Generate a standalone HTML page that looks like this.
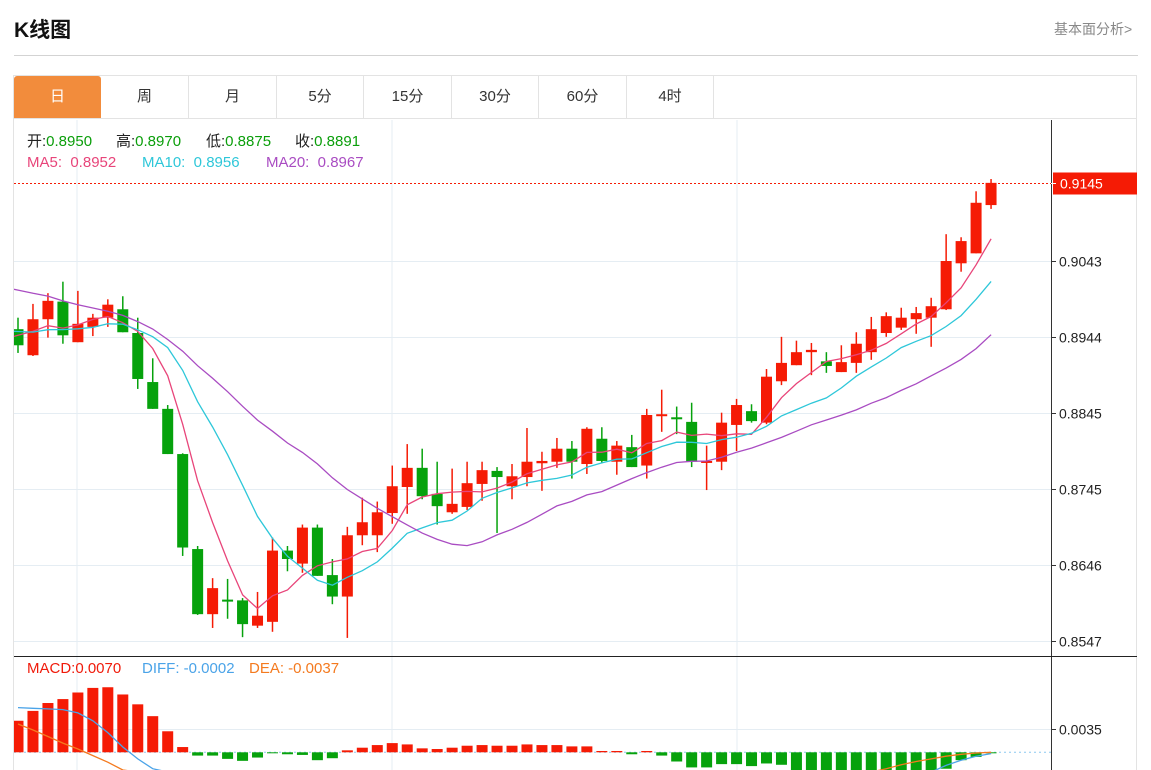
<!DOCTYPE html>
<html><head><meta charset="utf-8"><style>
body{margin:0;width:1151px;height:770px;overflow:hidden;background:#fff;font-family:"Liberation Sans","Noto Sans CJK SC",sans-serif;position:relative}
.abs{position:absolute}
.tab{position:absolute;top:76px;height:42px;line-height:42px;text-align:center;font-size:15px;color:#333;border-right:1px solid #e3e3e3}
.it{position:absolute;white-space:pre;font-size:15px}
</style></head><body>
<div class="abs" style="left:14px;top:14px;font-size:21px;font-weight:bold;color:#111">K线图</div>
<div class="abs" style="left:1054px;top:19px;font-size:14px;color:#888">基本面分析&gt;</div>
<div class="abs" style="left:14px;top:55px;width:1124px;height:1px;background:#d3d3d3"></div>
<div class="abs" style="left:13px;top:75px;width:1124px;height:695px;border:1px solid #e3e3e3;border-bottom:none;box-sizing:border-box"></div>
<div class="abs" style="left:14px;top:118px;width:1123px;height:1px;background:#e3e3e3"></div>
<div class="tab" style="left:14px;width:87px;background:#f28c3c;color:#fff;border-radius:3px 3px 0 0;border-right:none">日</div>
<div class="tab" style="left:101px;width:87px">周</div>
<div class="tab" style="left:189px;width:87px">月</div>
<div class="tab" style="left:277px;width:86px">5分</div>
<div class="tab" style="left:364px;width:87px">15分</div>
<div class="tab" style="left:452px;width:86px">30分</div>
<div class="tab" style="left:539px;width:87px">60分</div>
<div class="tab" style="left:627px;width:86px">4时</div>
<svg class="abs" style="left:0;top:0;overflow:hidden" width="1151" height="770" id="svg"></svg>
<div>
<div class="it" style="left:27px;top:130px;color:#222">开:<span style="color:#0a9e0a">0.8950</span></div>
<div class="it" style="left:116px;top:130px;color:#222">高:<span style="color:#0a9e0a">0.8970</span></div>
<div class="it" style="left:206px;top:130px;color:#222">低:<span style="color:#0a9e0a">0.8875</span></div>
<div class="it" style="left:295px;top:130px;color:#222">收:<span style="color:#0a9e0a">0.8891</span></div>
</div>
<div>
<div class="it" style="left:27px;top:154px;color:#e8457a">MA5:  0.8952</div>
<div class="it" style="left:142px;top:154px;color:#2ec7d9">MA10:  0.8956</div>
<div class="it" style="left:266px;top:154px;color:#a94cc2">MA20:  0.8967</div>
</div>
<div>
<div class="it" style="left:27px;top:660px;color:#f01a0a">MACD:0.0070</div>
<div class="it" style="left:142px;top:660px;color:#4aa3e8">DIFF: -0.0002</div>
<div class="it" style="left:249px;top:660px;color:#f47a1f">DEA: -0.0037</div>
</div>
<script>
const opens=[0.8954,0.8920,0.8967,0.8990,0.8937,0.8957,0.8969,0.8980,0.8949,0.8885,0.8850,0.8791,0.8667,0.8582,0.8601,0.8600,0.8567,0.8572,0.8665,0.8648,0.8695,0.8633,0.8605,0.8685,0.8685,0.8714,0.8748,0.8773,0.8739,0.8715,0.8722,0.8752,0.8769,0.8749,0.8761,0.8779,0.8781,0.8798,0.8778,0.8811,0.8781,0.8800,0.8776,0.8842,0.8839,0.8833,0.8781,0.8781,0.8829,0.8847,0.8832,0.8886,0.8907,0.8924,0.8912,0.8898,0.8910,0.8924,0.8949,0.8956,0.8967,0.8969,0.8980,0.9040,0.9053,0.9116];
const highs=[0.8969,0.8987,0.9001,0.9016,0.9004,0.8974,0.8993,0.8997,0.8969,0.8916,0.8855,0.8792,0.8671,0.8629,0.8628,0.8603,0.8611,0.8682,0.8671,0.8699,0.8699,0.8654,0.8696,0.8734,0.8729,0.8776,0.8804,0.8798,0.8781,0.8772,0.8781,0.8781,0.8774,0.8778,0.8825,0.8794,0.8812,0.8808,0.8826,0.8826,0.8808,0.8816,0.8850,0.8875,0.8853,0.8858,0.8802,0.8845,0.8863,0.8856,0.8902,0.8944,0.8939,0.8936,0.8924,0.8933,0.8950,0.8970,0.8976,0.8982,0.8983,0.8995,0.9078,0.9074,0.9134,0.9150];
const lows=[0.8923,0.8919,0.8943,0.8935,0.8937,0.8945,0.8957,0.8950,0.8876,0.8850,0.8791,0.8658,0.8581,0.8564,0.8576,0.8552,0.8564,0.8559,0.8638,0.8636,0.8632,0.8595,0.8551,0.8672,0.8663,0.8700,0.8713,0.8732,0.8699,0.8713,0.8718,0.8730,0.8688,0.8732,0.8749,0.8743,0.8773,0.8759,0.8765,0.8779,0.8764,0.8774,0.8759,0.8820,0.8817,0.8774,0.8744,0.8770,0.8795,0.8832,0.8830,0.8881,0.8907,0.8894,0.8897,0.8898,0.8897,0.8914,0.8944,0.8953,0.8948,0.8931,0.8979,0.9029,0.9053,0.9111];
const closes=[0.8933,0.8967,0.8991,0.8946,0.8961,0.8969,0.8986,0.8950,0.8889,0.8850,0.8791,0.8669,0.8582,0.8616,0.8600,0.8569,0.8580,0.8665,0.8654,0.8695,0.8632,0.8605,0.8685,0.8702,0.8715,0.8749,0.8773,0.8736,0.8723,0.8726,0.8753,0.8770,0.8761,0.8762,0.8781,0.8782,0.8798,0.8781,0.8824,0.8782,0.8802,0.8774,0.8842,0.8843,0.8837,0.8781,0.8782,0.8832,0.8855,0.8834,0.8892,0.8910,0.8924,0.8927,0.8906,0.8911,0.8935,0.8954,0.8971,0.8969,0.8975,0.8984,0.9043,0.9069,0.9119,0.9145];
const priorCloses=[0.9050,0.9065,0.9070,0.9060,0.9055,0.9070,0.9060,0.9050,0.9045,0.9065,0.8975,0.8960,0.8945,0.8950,0.8950,0.8940,0.8955,0.8962,0.8940];
const macdBars=[0.0048,0.0063,0.0075,0.0081,0.0091,0.0098,0.0099,0.0088,0.0073,0.0055,0.0032,0.0008,-0.0005,-0.0005,-0.0010,-0.0013,-0.0008,-0.0001,-0.0003,-0.0004,-0.0012,-0.0009,0.0003,0.0007,0.0011,0.0014,0.0012,0.0006,0.0005,0.0007,0.0010,0.0011,0.0010,0.0010,0.0012,0.0011,0.0011,0.0009,0.0009,0.0002,0.0002,-0.0003,0.0002,-0.0005,-0.0014,-0.0023,-0.0023,-0.0018,-0.0018,-0.0021,-0.0017,-0.0019,-0.0030,-0.0032,-0.0033,-0.0032,-0.0031,-0.0030,-0.0030,-0.0029,-0.0028,-0.0028,-0.0025,-0.0012,-0.0007,-0.0001];
const diffLine=[0.0068,0.0067,0.0066,0.0065,0.0060,0.0048,0.0030,0.0008,-0.0010,-0.0025,-0.0045,-0.0065,-0.0085,-0.0098,-0.0105,-0.0110,-0.0110,-0.0105,-0.0100,-0.0095,-0.0095,-0.0095,-0.0090,-0.0085,-0.0080,-0.0075,-0.0072,-0.0072,-0.0070,-0.0068,-0.0066,-0.0064,-0.0062,-0.0060,-0.0058,-0.0056,-0.0055,-0.0054,-0.0053,-0.0054,-0.0055,-0.0057,-0.0056,-0.0060,-0.0066,-0.0072,-0.0074,-0.0074,-0.0075,-0.0077,-0.0077,-0.0078,-0.0080,-0.0080,-0.0078,-0.0075,-0.0070,-0.0065,-0.0058,-0.0050,-0.0040,-0.0030,-0.0020,-0.0012,-0.0006,-0.0002];
const deaLine=[0.0043,0.0034,0.0024,0.0014,0.0005,-0.0005,-0.0015,-0.0027,-0.0040,-0.0052,-0.0063,-0.0072,-0.0078,-0.0082,-0.0085,-0.0088,-0.0090,-0.0091,-0.0091,-0.0090,-0.0089,-0.0088,-0.0087,-0.0086,-0.0084,-0.0082,-0.0080,-0.0078,-0.0076,-0.0074,-0.0072,-0.0070,-0.0068,-0.0066,-0.0064,-0.0062,-0.0061,-0.0060,-0.0059,-0.0058,-0.0058,-0.0058,-0.0058,-0.0059,-0.0060,-0.0062,-0.0064,-0.0066,-0.0067,-0.0068,-0.0068,-0.0068,-0.0066,-0.0063,-0.0058,-0.0050,-0.0042,-0.0033,-0.0025,-0.0019,-0.0014,-0.0010,-0.0006,-0.0003,-0.0001,0.0000];
const priceTicks=["0.9043","0.8944","0.8845","0.8745","0.8646","0.8547"];
const macdTicks=["0.0035"];
const lastPrice="0.9145";

const NS="http://www.w3.org/2000/svg", svg=document.getElementById('svg');
const X0=18, DX=14.97, L=14, R=1051, PT=120, PB=655, MT=657, MB=770;
const xAt=i=>X0+i*DX;
const yP=p=>261+(0.9043-p)*7661;
const yM=v=>752.3-v*6571;
function mk(t,a,parent){const e=document.createElementNS(NS,t);for(const k in a)e.setAttribute(k,a[k]);(parent||svg).appendChild(e);return e;}
const defs=mk('defs',{});
const c1=mk('clipPath',{id:'cp'},defs);mk('rect',{x:L,y:PT,width:R-L,height:PB-PT},c1);
const c2=mk('clipPath',{id:'cm'},defs);mk('rect',{x:L,y:MT,width:R-L,height:MB-MT},c2);
[77,392,737].forEach(x=>{const g=mk('line',{x1:x,x2:x,y1:PT,y2:MB,stroke:'#e5edf3','stroke-width':1});

});
priceTicks.forEach(t=>{const y=Math.round(yP(+t))+0.5;
const g=mk('line',{x1:L,x2:R,y1:y,y2:y,stroke:'#e5edf3'});


mk('line',{x1:R,x2:R+5,y1:y,y2:y,stroke:'#333'});
const tx=mk('text',{x:R+8,y:y+5,'font-size':14,fill:'#222'});tx.textContent=t;

});
macdTicks.forEach(t=>{const y=Math.round(yM(+t))+0.5;
const g=mk('line',{x1:L,x2:R,y1:y,y2:y,stroke:'#e5edf3'});


mk('line',{x1:R,x2:R+5,y1:y,y2:y,stroke:'#333'});
const tx=mk('text',{x:R+8,y:y+5,'font-size':14,fill:'#222'});tx.textContent=t;

});
mk('line',{x1:R+0.5,x2:R+0.5,y1:PT,y2:MB,stroke:'#333'});
mk('line',{x1:L,x2:1137,y1:656.5,y2:656.5,stroke:'#222'});
const all=priorCloses.concat(closes);
function ma(n){return closes.map((c,i)=>{const j=i+priorCloses.length;let s=0;for(let k=j-n+1;k<=j;k++)s+=all[k];return s/n;});}
const gp=mk('g',{'clip-path':'url(#cp)'});
closes.forEach((c,i)=>{const o=opens[i],up=c>=o,col=up?'#f51b05':'#06a20c',x=xAt(i);
const g=mk('g',{},gp);


mk('line',{x1:x,x2:x,y1:yP(highs[i]),y2:yP(lows[i]),stroke:col,'stroke-width':1.5},g);
const t=Math.min(yP(o),yP(c)),h=Math.max(2,Math.abs(yP(o)-yP(c)));
mk('rect',{x:x-5.5,y:t,width:11,height:h,fill:col},g);});
[[5,'#e8457a','ma5-line'],[10,'#2ec7d9','ma10-line'],[20,'#a94cc2','ma20-line']].forEach(([n,col,name])=>{
const v=ma(n);const pts=v.map((p,i)=>xAt(i).toFixed(1)+','+yP(p).toFixed(1));
pts.unshift((L).toFixed(1)+','+(yP(v[0])-(yP(v[1])-yP(v[0]))*0.27).toFixed(1));
const pl=mk('polyline',{points:pts.join(' '),fill:'none',stroke:col,'stroke-width':1.3},gp);

});
const ly=Math.round(yP(+lastPrice))+0.5;
mk('line',{x1:L,x2:R,y1:ly,y2:ly,stroke:'#f51b05','stroke-dasharray':'2,2'});
const lb=mk('rect',{x:1053,y:ly-11,width:84,height:22,fill:'#f51b05'});


mk('line',{x1:R,x2:R+5,y1:ly,y2:ly,stroke:'#fff'});
const lt=mk('text',{x:R+9,y:ly+5,'font-size':14,fill:'#fff'});lt.textContent=lastPrice;
const gm=mk('g',{'clip-path':'url(#cm)'});
const z=yM(0);
mk('line',{x1:L,x2:R,y1:z,y2:z,stroke:'#8cc8f0','stroke-dasharray':'2,3'},gm);
macdBars.forEach((v,i)=>{const y=Math.min(MB,yM(v));
const b=mk('rect',{x:xAt(i)-5.5,y:Math.min(y,z),width:11,height:Math.max(1,Math.abs(y-z)),fill:v>=0?'#f51b05':'#06a20c'},gm);

});
[[diffLine,'#4aa3e8','diff-line'],[deaLine,'#f47a1f','dea-line']].forEach(([arr,col,name])=>{
const pl=mk('polyline',{points:arr.map((v,i)=>xAt(i).toFixed(1)+','+Math.min(MB+2,yM(v)).toFixed(1)).join(' '),fill:'none',stroke:col,'stroke-width':1.3},gm);

});
</script>
</body></html>
